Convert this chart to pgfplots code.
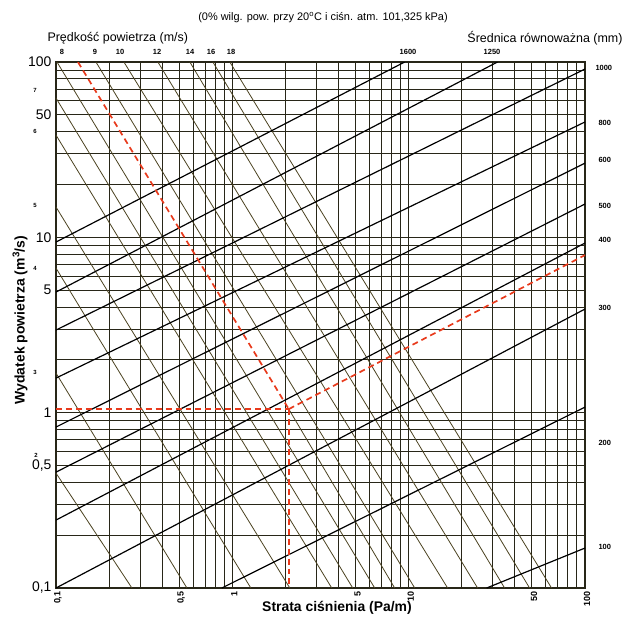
\documentclass[border=0pt]{standalone}
\usepackage{fontspec}
\setmainfont{Liberation Sans}
\usepackage{pgfplots}
\pgfplotsset{compat=1.18}
\definecolor{gridc}{RGB}{40,38,24}
\definecolor{velc}{RGB}{75,66,32}
\definecolor{redc}{RGB}{232,58,28}
\newcommand{\sm}{\bfseries\fontsize{7.5}{8}\selectfont}
\newcommand{\tn}{\bfseries\fontsize{6}{6}\selectfont}
\begin{document}
\begin{tikzpicture}
\path[use as bounding box] (0bp,0bp) rectangle (640bp,630bp);
\begin{axis}[
  at={(56bp,42bp)}, anchor=south west,
  width=529bp, height=526bp, scale only axis,
  xmode=log, ymode=log,
  xmin=0.1, xmax=100, ymin=0.1, ymax=100,
  xtick={0.1,0.5,1,5,10,50,100},
  xticklabels={{0,1},{0,5},1,5,10,50,100},
  ytick={0.1,0.5,1,5,10,50,100},
  yticklabels={{0,1},{0,5},1,5,10,50,100},
  minor xtick={0.2,0.3,0.4,0.6,0.7,0.8,0.9,2,3,4,6,7,8,9,20,30,40,60,70,80,90},
  minor ytick={0.2,0.3,0.4,0.6,0.7,0.8,0.9,2,3,4,6,7,8,9,20,30,40,60,70,80,90},
  grid=both,
  major grid style={draw=gridc, line width=1.0pt},
  minor grid style={draw=gridc, line width=1.0pt},
  major tick length=0pt, minor tick length=0pt,
  axis line style={draw=gridc, line width=1.4pt},
  xticklabel style={rotate=90, anchor=east, font=\bfseries\fontsize{9}{9}\selectfont, yshift=-2bp},
  yticklabel style={font=\fontsize{14}{14}\selectfont, xshift=-1bp},
]
% velocity lines (m/s)
\addplot[velc, line width=0.8pt] coordinates {(0.1013,100)(6.418,0.1)};   % 8
\addplot[velc, line width=0.8pt] coordinates {(0.1685,100)(10.82,0.1)};   % 9
\addplot[velc, line width=0.8pt] coordinates {(0.2428,100)(16.63,0.1)};   % 10
\addplot[velc, line width=0.8pt] coordinates {(0.3784,100)(24.60,0.1)};   % 12
\addplot[velc, line width=0.8pt] coordinates {(0.5742,100)(34.99,0.1)};   % 14
\addplot[velc, line width=0.8pt] coordinates {(0.7756,100)(48.50,0.1)};   % 16
\addplot[velc, line width=0.8pt] coordinates {(0.968,100)(64.6,0.1)};     % 18
\addplot[velc, line width=0.8pt] coordinates {(0.1,62.3)(4.817,0.1)};     % 7
\addplot[velc, line width=0.8pt] coordinates {(0.1,38.3)(3.662,0.1)};     % 6
\addplot[velc, line width=0.8pt] coordinates {(0.1,14.89)(2.118,0.1)};    % 5
\addplot[velc, line width=0.8pt] coordinates {(0.1,6.68)(1.273,0.1)};     % 4
\addplot[velc, line width=0.8pt] coordinates {(0.1,1.682)(0.5525,0.1)};   % 3
\addplot[velc, line width=0.8pt] coordinates {(0.1,0.4523)(0.2695,0.1)};  % 2
\addplot[velc, line width=0.8pt] coordinates {(2.09,1.048)(8.33,0.1)};
% equivalent diameter lines (mm)
\addplot[black, line width=1.2pt] coordinates {(0.1,9.40)(9.49,100)};     % 1600
\addplot[black, line width=1.2pt] coordinates {(0.1,4.875)(31.9,100)};    % 1250
\addplot[black, line width=1.2pt] coordinates {(0.1,2.96)(100,91.2)};     % 1000
\addplot[black, line width=1.2pt] coordinates {(0.1,1.575)(100,45.5)};    % 800
\addplot[black, line width=1.2pt] coordinates {(0.1,0.828)(100,26.5)};    % 600
\addplot[black, line width=1.2pt] coordinates {(0.1,0.458)(100,15.49)};   % 500
\addplot[black, line width=1.2pt] coordinates {(0.1,0.244)(100,9.28)};    % 400
\addplot[black, line width=1.2pt] coordinates {(0.1,0.1)(100,3.90)};      % 300
\addplot[black, line width=1.2pt] coordinates {(0.872,0.1)(100,1.076)};   % 200
\addplot[black, line width=1.2pt] coordinates {(27.7,0.1)(100,0.169)};    % 100
% worked example (red dashed)
\addplot[redc, line width=1.7pt, dash pattern=on 6pt off 4pt] coordinates {(0.1332,100)(2.09,1.048)};
\addplot[redc, line width=1.7pt, dash pattern=on 6pt off 4pt] coordinates {(0.1,1.048)(2.09,1.048)};
\addplot[redc, line width=1.7pt, dash pattern=on 6pt off 4pt] coordinates {(2.09,1.048)(2.09,0.1)};
\addplot[redc, line width=1.7pt, dash pattern=on 6pt off 4pt] coordinates {(2.09,1.048)(100,7.92)};
\end{axis}
% titles
\node[font=\fontsize{11}{11}\selectfont] at (323bp,612bp) {(0\% wilg. pow. przy 20\textsuperscript{o}C i ciśn. atm. 101,325 kPa)};
\node[font=\fontsize{12.5}{13}\selectfont, anchor=west] at (44bp,592bp) {Prędkość powietrza (m/s)};
\node[font=\fontsize{12.5}{13}\selectfont, anchor=east] at (626bp,592bp) {Średnica równoważna (mm)};
\node[font=\bfseries\fontsize{14}{14}\selectfont, rotate=90] at (20bp,310bp) {Wydatek powietrza (m\textsuperscript{3}/s)};
\node[font=\bfseries\fontsize{14}{14}\selectfont] at (337bp,22bp) {Strata ciśnienia (Pa/m)};
% velocity labels
\node[font=\sm] at (62bp,578bp) {8};
\node[font=\sm] at (95bp,578bp) {9};
\node[font=\sm] at (120bp,578bp) {10};
\node[font=\sm] at (157bp,578bp) {12};
\node[font=\sm] at (190bp,578bp) {14};
\node[font=\sm] at (211bp,578bp) {16};
\node[font=\sm] at (231bp,578bp) {18};
\node[font=\tn] at (35bp,540bp) {7};
\node[font=\tn] at (35bp,499bp) {6};
\node[font=\tn] at (35bp,425bp) {5};
\node[font=\tn] at (35bp,362bp) {4};
\node[font=\tn] at (35bp,258bp) {3};
\node[font=\tn] at (36bp,175bp) {2};
% diameter labels
\node[font=\sm] at (408bp,578bp) {1600};
\node[font=\sm] at (492bp,578bp) {1250};
\node[font=\sm, anchor=west] at (592bp,562bp) {1000};
\node[font=\sm, anchor=west] at (595bp,507bp) {800};
\node[font=\sm, anchor=west] at (595bp,470bp) {600};
\node[font=\sm, anchor=west] at (595bp,424bp) {500};
\node[font=\sm, anchor=west] at (595bp,390bp) {400};
\node[font=\sm, anchor=west] at (595bp,322bp) {300};
\node[font=\sm, anchor=west] at (595bp,187bp) {200};
\node[font=\sm, anchor=west] at (595bp,83bp) {100};
\end{tikzpicture}
\end{document}
